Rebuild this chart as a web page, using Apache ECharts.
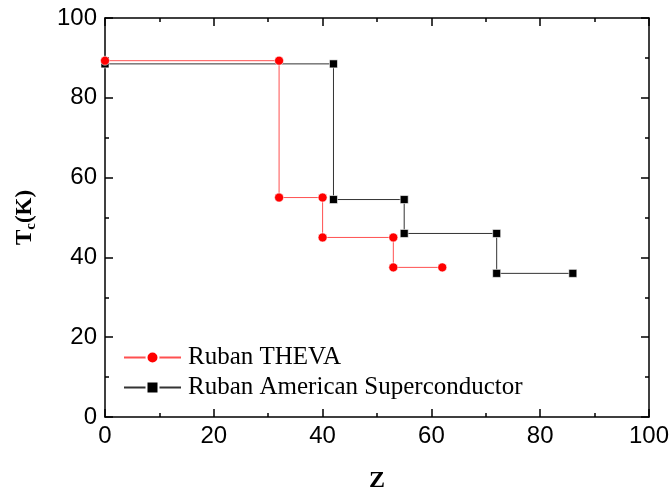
<!DOCTYPE html>
<html>
<head>
<meta charset="utf-8">
<script src="https://cdn.jsdelivr.net/npm/echarts@6/dist/echarts.min.js"></script>
<style>html,body{margin:0;padding:0;background:#fff}#c{width:672px;height:493px}</style>
</head>
<body>
<div id="c"></div>
<script>
const thevaName = 'Ruban THEVA';
const thevaZ  = [0, 32, 32, 40, 40, 53, 53, 62];
const thevaTc = [89.3, 89.3, 55, 55, 45, 45, 37.5, 37.5];
const amscName = 'Ruban American Superconductor';
const amscZ  = [0, 42, 42, 55, 55, 72, 72, 86];
const amscTc = [88.5, 88.5, 54.5, 54.5, 46, 46, 36, 36];
const xTicks = [0, 20, 40, 60, 80, 100];
const yTicks = [0, 20, 40, 60, 80, 100];

const pairs = (xs, ys) => xs.map((x, i) => [x, ys[i]]);
const chart = echarts.init(document.getElementById('c'));
const tickFont = {fontFamily: 'Liberation Sans', fontSize: 24, color: '#000'};
const lineStyle = {color: '#000', width: 1.5};
const baseAxis = {
  type: 'value', min: 0, max: 100, interval: 20,
  axisLine: {show: true, onZero: false, lineStyle: lineStyle},
  axisTick: {show: true, inside: true, length: 8, lineStyle: lineStyle},
  minorTick: {show: true, splitNumber: 2, length: 4, lineStyle: lineStyle},
  splitLine: {show: false}
};
chart.setOption({
  animation: false,
  grid: {left: 105, right: 23, top: 18, bottom: 76, containLabel: false, outerBoundsMode: 'none'},
  legend: {
    orient: 'vertical', left: 123, top: 345, itemGap: 5, padding: 0,
    itemWidth: 57, itemHeight: 15,
    data: [thevaName, amscName],
    textStyle: {fontFamily: 'Liberation Serif', fontSize: 25, color: '#000', padding: [0, 0, 0, 2]}
  },
  xAxis: [
    Object.assign({}, baseAxis, {
      position: 'bottom',
      axisLabel: Object.assign({margin: 7, formatter: v => xTicks.includes(v) ? String(v) : ''}, tickFont),
      name: 'Z', nameLocation: 'middle', nameGap: 52,
      nameTextStyle: {fontFamily: 'Liberation Serif', fontWeight: 'bold', fontSize: 24, color: '#000'}
    }),
    Object.assign({}, baseAxis, {position: 'top', axisLabel: {show: false}})
  ],
  yAxis: [
    Object.assign({}, baseAxis, {
      position: 'left',
      axisLabel: Object.assign({margin: 8, formatter: v => yTicks.includes(v) ? String(v) : ''}, tickFont),
      name: '{a|T}{b|c}{a|(K)}', nameLocation: 'middle', nameGap: 66, nameRotate: 90,
      nameTextStyle: {
        rich: {
          a: {fontFamily: 'Liberation Serif', fontWeight: 'bold', fontSize: 23, color: '#000'},
          b: {fontFamily: 'Liberation Serif', fontWeight: 'bold', fontSize: 15, color: '#000', padding: [12, 0, 0, 0]}
        }
      }
    }),
    Object.assign({}, baseAxis, {position: 'right', axisLabel: {show: false}})
  ],
  series: [
    {
      name: amscName, type: 'line', data: pairs(amscZ, amscTc), clip: false, z: 2,
      symbol: 'rect', symbolSize: 8,
      itemStyle: {color: '#000', borderColor: '#fff', borderWidth: 0.6},
      lineStyle: {color: '#333', width: 1}
    },
    {
      name: thevaName, type: 'line', data: pairs(thevaZ, thevaTc), clip: false, z: 3,
      symbol: 'circle', symbolSize: 9,
      itemStyle: {color: '#ff0000', borderColor: '#fff', borderWidth: 0.6},
      lineStyle: {color: '#ff5050', width: 1}
    }
  ]
});
</script>
</body>
</html>
